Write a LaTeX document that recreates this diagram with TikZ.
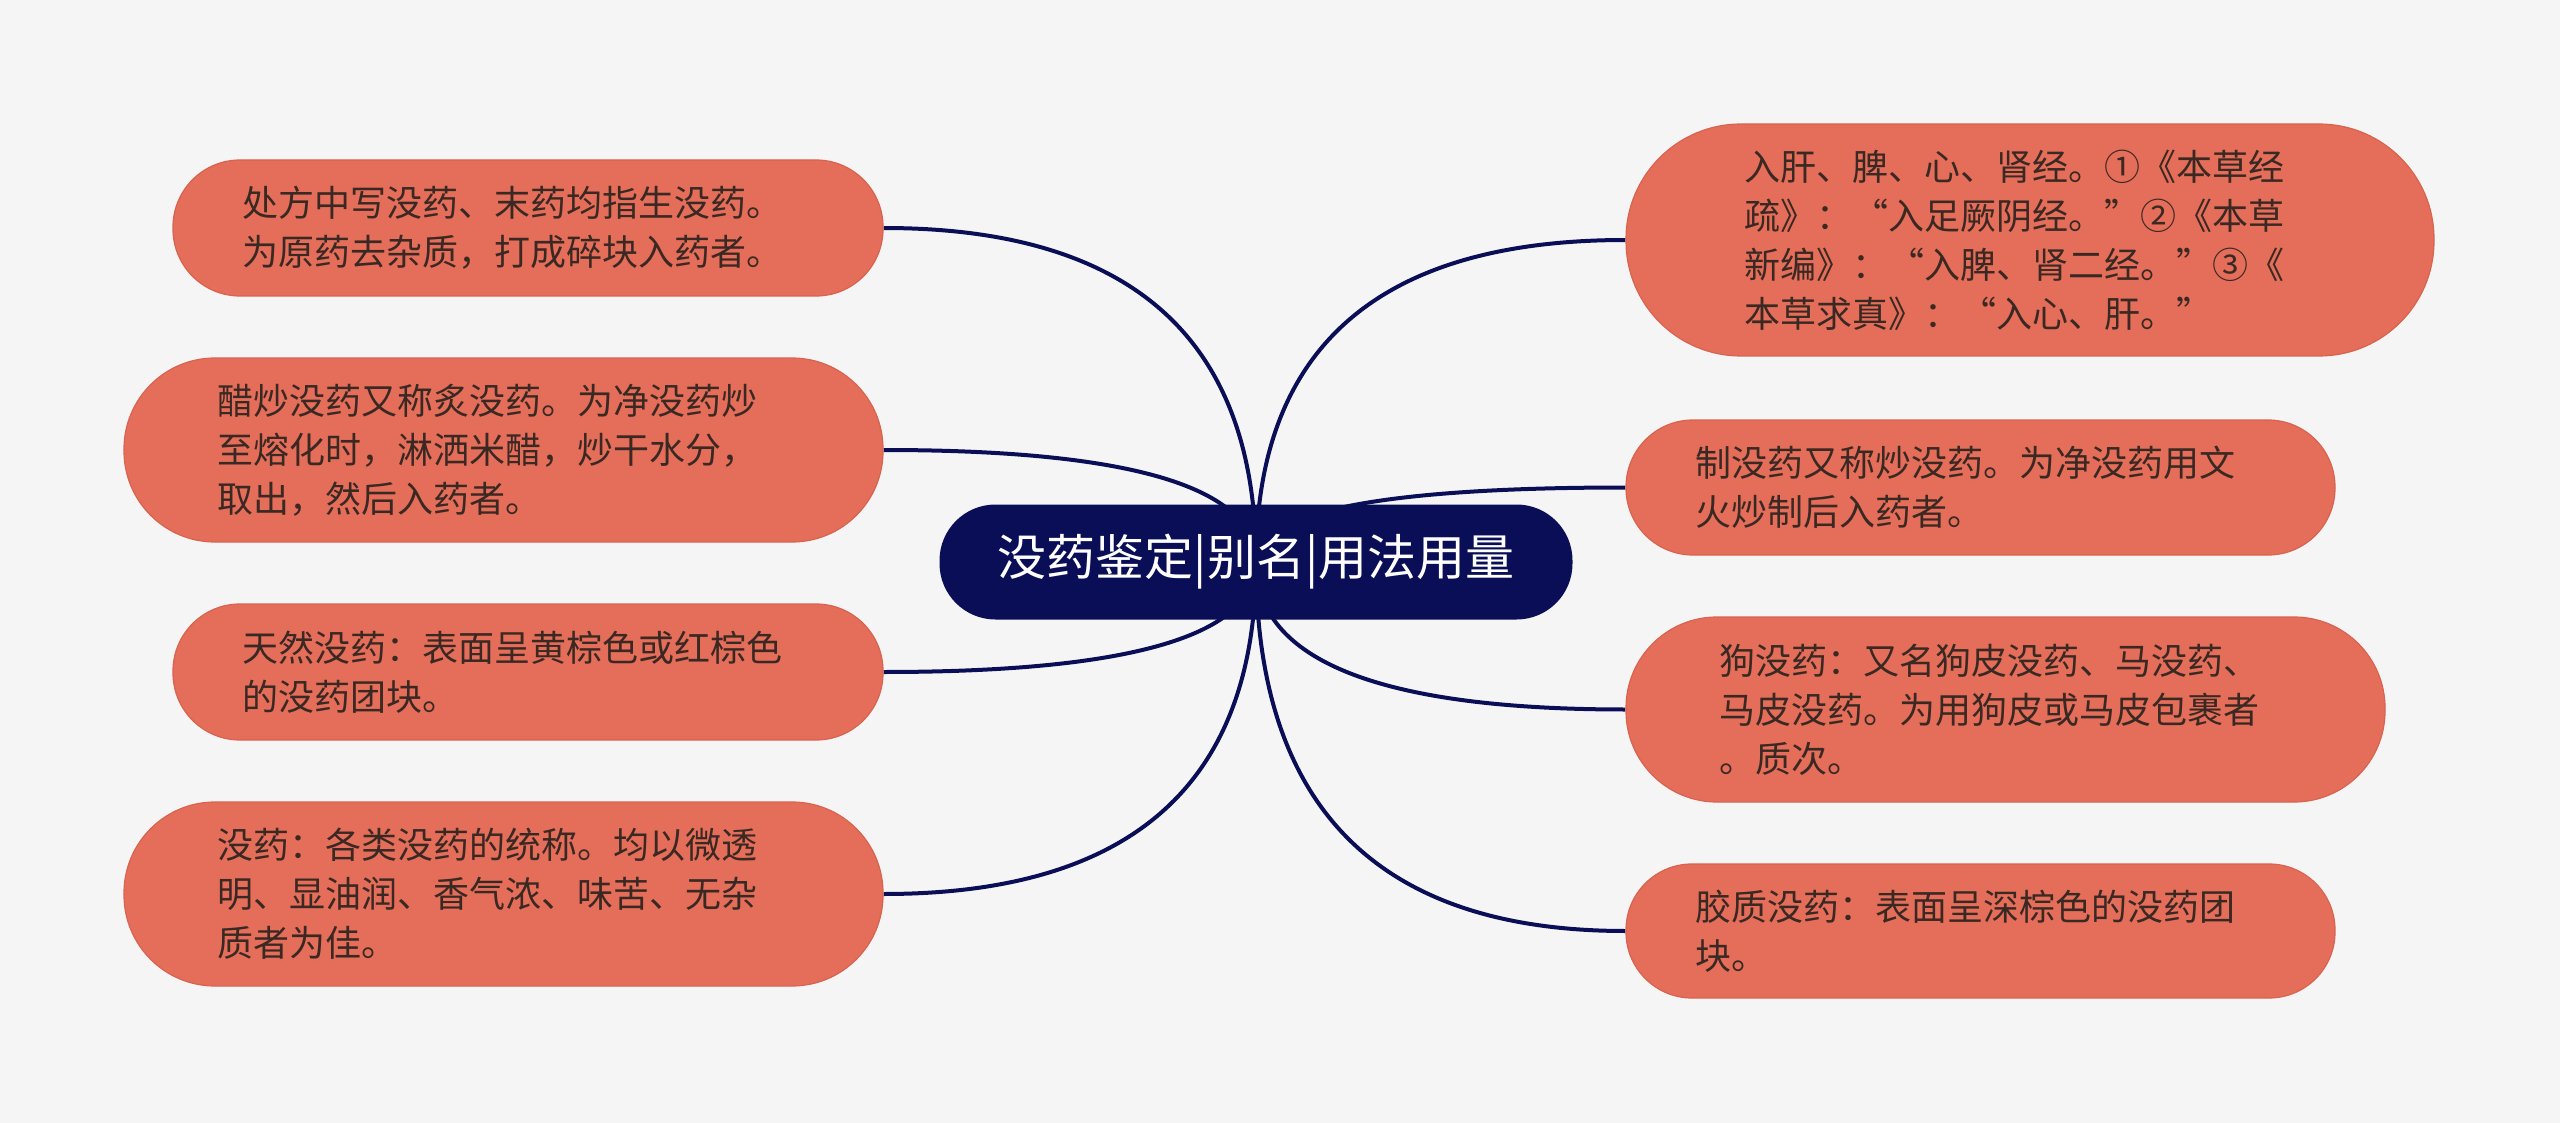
\documentclass[tikz,border=0pt]{standalone}
\usepackage{fontspec}
\newfontfamily\cjk{Noto Sans CJK SC}
\usetikzlibrary{calc}
\pgfdeclarelayer{bg}
\pgfdeclarelayer{lines}
\pgfsetlayers{bg,lines,main}
\definecolor{bgc}{HTML}{F5F5F5}
\definecolor{boxc}{HTML}{E46E5A}
\definecolor{boxd}{HTML}{D9634F}
\definecolor{navy}{HTML}{0A0E56}
\definecolor{txt}{HTML}{3A2823}
\tikzset{
  leaf/.style={draw=boxd, line width=0.6pt, fill=boxc, text=txt, align=left,
    font=\cjk\fontsize{18pt}{24.5pt}\selectfont, inner ysep=0pt},
  root/.style={fill=navy, text=white, align=center, rounded corners=28pt,
    minimum width=316.5pt, minimum height=57.5pt, inner sep=0pt,
    font=\cjk\fontsize{24.5pt}{30pt}\selectfont},
  conn/.style={draw=navy, line width=2pt}
}
\newcommand\mconn[2]{%
  \coordinate (q#1) at (c.center|-#1.#2);
  \draw[conn] (c.center) .. controls ($(c.center)!0.667!(q#1)$) and ($(#1.#2)!0.667!(q#1)$) .. (#1.#2);}
\begin{document}
\begin{tikzpicture}[x=0.5pt,y=-0.5pt]
\begin{pgfonlayer}{bg}
\fill[bgc] (0,0) rectangle (2560,1123);
\end{pgfonlayer}
\useasboundingbox (0,0) rectangle (2560,1123);

\node[root] (c) at (1256,562) {没药鉴定|别名|用法用量};

\node[leaf, text width=286pt, inner xsep=34.5pt, minimum height=68pt, rounded corners=33.5pt] (l1) at (528,228)
  {处方中写没药、末药均指生没药。\\为原药去杂质，打成碎块入药者。};
\node[leaf, text width=286.5pt, inner xsep=46.5pt, minimum height=92pt, rounded corners=45.5pt] (l2) at (503.5,450)
  {醋炒没药又称炙没药。为净没药炒\\至熔化时，淋洒米醋，炒干水分，\\取出，然后入药者。};
\node[leaf, text width=286pt, inner xsep=34.5pt, minimum height=68pt, rounded corners=33.5pt] (l3) at (528,672)
  {天然没药：表面呈黄棕色或红棕色\\的没药团块。};
\node[leaf, text width=286.5pt, inner xsep=46.5pt, minimum height=92pt, rounded corners=45.5pt] (l4) at (503.5,894)
  {没药：各类没药的统称。均以微透\\明、显油润、香气浓、味苦、无杂\\质者为佳。};

\node[leaf, text width=286pt, inner xsep=59pt, minimum height=116pt, rounded corners=57.5pt] (r1) at (2030,240)
  {入肝、脾、心、肾经。①《本草经\\疏》：“入足厥阴经。”②《本草\\新编》：“入脾、肾二经。”③《\\本草求真》：“入心、肝。”};
\node[leaf, text width=285.5pt, inner xsep=34.5pt, minimum height=67.5pt, rounded corners=33.5pt] (r2) at (1980.5,487.5)
  {制没药又称炒没药。为净没药用文\\火炒制后入药者。};
\node[leaf, text width=286.5pt, inner xsep=46.5pt, minimum height=92.5pt, rounded corners=45.5pt] (r3) at (2005.5,709.5)
  {狗没药：又名狗皮没药、马没药、\\马皮没药。为用狗皮或马皮包裹者\\。质次。};
\node[leaf, text width=285.5pt, inner xsep=34.5pt, minimum height=67pt, rounded corners=33pt] (r4) at (1980.5,931)
  {胶质没药：表面呈深棕色的没药团\\块。};

\begin{pgfonlayer}{lines}
\mconn{l1}{east}
\mconn{l2}{east}
\mconn{l3}{east}
\mconn{l4}{east}
\mconn{r1}{west}
\mconn{r2}{west}
\mconn{r3}{west}
\mconn{r4}{west}
\end{pgfonlayer}
\end{tikzpicture}
\end{document}
